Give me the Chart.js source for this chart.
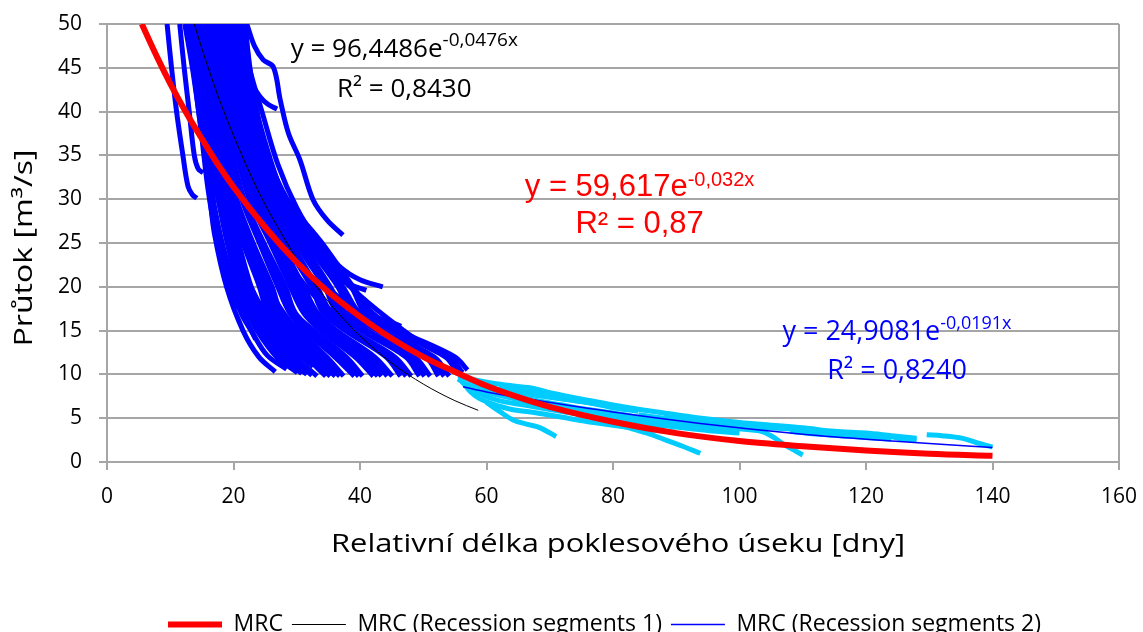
<!DOCTYPE html>
<html>
<head>
<meta charset="utf-8">
<script src="https://cdn.jsdelivr.net/npm/chart.js@4.4.1/dist/chart.umd.min.js"></script>
<style>
  html, body { margin: 0; padding: 0; background: #fff; }
</style>
</head>
<body>
<canvas id="graf" width="1143" height="632"></canvas>
<script>
// osy
const xTicks = [0, 20, 40, 60, 80, 100, 120, 140, 160];
const yTicks = [0, 5, 10, 15, 20, 25, 30, 35, 40, 45, 50];

// trendy
const mrc = [[5.5,50],[8,46.1],[10,43.2],[12.5,39.9],[15,36.9],[17.5,34.0],[20,31.4],[25,26.8],[30,22.8],[35,19.4],[40,16.6],[45,14.1],[50,12.0],[55,10.3],[60,8.7],[65,7.4],[70,6.3],[80,4.6],[90,3.3],[100,2.4],[110,1.8],[120,1.3],[130,0.93],[140,0.7]];
const mrc1 = [[13.8,50],[15,47.2],[17.5,41.9],[20,37.3],[22.5,33.1],[25,29.4],[27.5,26.2],[30,23.2],[35,18.3],[40,14.4],[45,11.3],[50,8.9],[55,7.0],[58.7,5.9]];
const mrc2 = [[56.3,8.6],[60,8.0],[67.4,7.1],[80,5.7],[93.8,4.4],[109.6,3.2],[120,2.6],[130,2.1],[140,1.65]];

// poklesove useky 1 (tmave modre)
const useky1 = [
  [[9.5,50],[10.2,45],[11,40],[12,35],[12.8,31.5],[13.5,30.5],[14.2,30.1]],
  [[11.5,50],[12.2,45],[13,40],[13.8,35],[14.4,33.5],[15.2,33]],
  [[12.3,50],[13.5,45],[14.5,40],[15.5,35],[16.3,30],[17,26],[18.9,20],[21.5,15],[24,12],[26.6,10.3]],
  [[13,50],[14,43],[15,37],[16,31],[17.2,26],[19,21],[20.5,18],[22.2,16.4]],
  [[12.5,50],[13.8,44],[15.0,38],[16.3,31],[17.8,26],[19.6,21.5],[21.8,17.6],[24.0,15.0],[26.3,13.2],[28.5,12.4]],
  [[13.0,50],[14.2,44],[15.8,38],[17.0,32],[18.6,27],[20.6,22],[22.8,18],[25.0,15.2],[27.6,13.2],[30.5,11.6]],
  [[14.0,50],[15.0,44],[16.4,38],[17.7,32],[19.5,26.5],[21.5,22],[23.8,18.5],[26.5,15.5],[29.5,12.8],[32.6,10.9]],
  [[12.8,50],[14.0,45],[15.2,40],[16.1,35],[16.8,30],[18.2,25],[19.9,20],[21.2,17],[22.8,15],[25.3,12.2],[28.4,10.6]],
  [[12.6,50],[13.9,45],[15.0,40],[15.9,35],[16.6,30],[17.6,26],[19.0,22],[20.3,19],[21.8,16.5],[23.5,14]],
  [[13.3,50],[14.5,45],[15.5,40],[16.4,35],[17.6,30],[19.0,25],[20.8,20],[22.3,17],[23.7,15],[26.8,12],[30.1,10.2]],
  [[13.5,50],[14.6,45],[15.9,40],[16.8,35],[17.8,30],[19.4,25],[21.4,20],[22.8,17],[24.3,15],[27.5,12],[30.8,10.1]],
  [[13.7,50],[14.8,45],[16.2,40],[17.1,35],[18.0,30],[19.8,25],[22.0,20],[23.2,17],[25.0,15],[28.1,12],[31.6,10]],
  [[14.0,50],[15.1,45],[16.3,40],[17.3,35],[18.4,30],[20.3,25],[22.4,20],[23.9,17],[25.7,15],[29.0,12],[32.4,9.9]],
  [[14.3,50],[15.4,45],[16.5,40],[17.4,35],[18.8,30],[20.8,25],[22.8,20],[24.6,17],[26.4,15],[29.8,12],[33.2,9.8]],
  [[14.6,50],[15.9,45],[17.1,40],[18.1,35],[19.3,30],[21.5,25],[24.1,20],[25.4,17],[27.6,15],[31.5,12],[34.6,9.8]],
  [[14.9,50],[16.0,45],[17.2,40],[18.3,35],[19.7,30],[22.0,25],[24.5,20],[26.1,17],[28.2,15],[32.1,12],[35.3,9.8]],
  [[15.2,50],[16.2,45],[17.3,40],[18.6,35],[20.1,30],[22.5,25],[24.9,20],[26.7,17],[28.8,15],[32.8,12],[36.1,9.8]],
  [[15.4,50],[16.5,45],[17.7,40],[18.8,35],[20.3,30],[22.8,25],[25.5,20],[27.2,17],[29.5,15],[33.7,12],[36.8,9.8]],
  [[15.6,50],[16.8,45],[18.0,40],[19.0,35],[20.5,30],[23.1,25],[26.1,20],[27.6,17],[30.3,15],[34.7,12],[37.4,9.8]],
  [[16.0,50],[17.1,45],[18.3,40],[19.6,35],[21.3,30],[24.1,25],[27.0,20],[28.9,17],[31.3,15],[36.0,12],[39.1,9.8]],
  [[16.3,50],[17.4,45],[18.5,40],[19.7,35],[21.5,30],[24.4,25],[27.6,20],[29.3,17],[32.0,15],[36.9,12],[39.8,9.8]],
  [[16.5,50],[17.0,45],[17.8,40],[18.9,35],[20.2,30],[21.9,26],[24.0,22],[26.6,18.5],[29.0,16],[31.5,14.2]],
  [[16.7,50],[17.6,45],[18.7,40],[19.9,35],[21.7,30],[24.8,25],[28.2,20],[29.8,17],[32.7,15],[37.8,12],[40.4,9.8]],
  [[17.0,50],[18.2,45],[19.3,40],[20.6,35],[22.5,30],[25.8,25],[29.0,20],[31.1,17],[33.8,15],[39.2,12],[42.1,9.8]],
  [[17.2,50],[18.3,45],[19.4,40],[20.8,35],[22.7,30],[26.1,25],[29.7,20],[31.6,17],[34.5,15],[40.1,12],[42.8,9.8]],
  [[17.4,50],[18.5,45],[19.6,40],[21.0,35],[22.9,30],[26.4,25],[30.3,20],[32.0,17],[35.2,15],[41.0,12],[43.4,9.8]],
  [[17.8,50],[18.8,45],[19.9,40],[21.2,35],[23.3,30],[27.0,25],[30.7,20],[32.7,17],[35.8,15],[41.7,12],[44.3,9.8]],
  [[18.0,50],[18.8,46],[19.7,42],[21.2,37],[23.0,32],[25.5,27],[28.5,23],[31.5,20],[34.5,17.8],[37.0,16.5]],
  [[18.1,50],[19.1,45],[20.2,40],[21.4,35],[23.7,30],[27.5,25],[31.1,20],[33.3,17],[36.3,15],[42.3,12],[45.1,9.8]],
  [[18.4,50],[19.6,45],[20.5,40],[22.1,35],[24.1,30],[28.1,25],[32.3,20],[34.2,17],[37.7,15],[44.1,12],[46.4,9.8]],
  [[18.7,50],[19.7,45],[20.8,40],[22.2,35],[24.5,30],[28.6,25],[32.8,20],[34.9,17],[38.2,15],[44.8,12],[47.3,9.8]],
  [[19.0,50],[19.8,45],[21.1,40],[22.4,35],[24.9,30],[29.1,25],[33.2,20],[35.5,17],[38.8,15],[45.5,12],[48.1,9.8]],
  [[19.3,50],[20.5,45],[21.4,40],[23.1,35],[25.4,30],[29.8,25],[34.4,20],[36.4,17],[40.2,15],[47.2,12],[49.4,9.8]],
  [[19.6,50],[20.6,45],[21.7,40],[23.3,35],[25.8,30],[30.3,25],[34.8,20],[37.0,17],[40.7,15],[47.9,12],[50.2,9.8]],
  [[19.9,50],[20.8,45],[22.0,40],[23.4,35],[26.2,30],[30.8,25],[35.3,20],[37.7,17],[41.2,15],[48.6,12],[51.1,9.8]],
  [[20.3,50],[21.4,45],[22.3,40],[24.1,35],[26.6,30],[31.4,25],[36.5,20],[38.6,17],[42.7,15],[50.4,12],[52.4,9.8]],
  [[20.6,50],[21.5,45],[22.6,40],[24.2,35],[27.0,30],[31.9,25],[36.9,20],[39.2,17],[43.2,15],[51.0,12],[53.3,9.8]],
  [[21.0,50],[21.7,45],[22.9,40],[24.4,35],[27.4,30],[32.4,25],[37.3,20],[39.9,17],[43.7,15],[51.7,12],[54.1,9.8]],
  [[21.2,50],[22.3,45],[23.2,40],[25.1,35],[27.8,30],[33.0,25],[38.6,20],[40.8,17],[45.2,15],[53.5,12],[55.5,10]],
  [[21.5,50],[22.4,45],[23.5,40],[25.3,35],[28.2,30],[33.5,25],[38.8,20],[41.4,17],[45.8,15],[54.2,12],[56.2,10.2]],
  [[21.8,50],[22.6,45],[23.7,40],[25.4,35],[28.5,30],[34.0,25],[38.9,20],[42.0,17],[46.3,15],[55.0,12],[57.0,10.5]],
  [[19.5,50],[21.5,44],[24,38],[27,32],[30.5,27],[35,22.5],[40,19],[46,15.5],[51,13],[55.3,11.7]],
  [[20.5,50],[22.3,44],[24.8,37],[27.8,30.5],[31.5,25.5],[35,22],[38,20.4],[41,19.6]],
  [[21,50],[22.5,45],[24.5,40],[27,34],[30,29],[33.2,25.3],[36.8,22.3],[40,20.8],[43.6,20]],
  [[20,50],[21,47],[22.6,43.6],[24.2,41.7],[25.5,40.8],[26.9,40.3]],
  [[21.8,50],[22.2,47],[22.5,44]],
  [[22.1,50],[23.3,47.5],[24.7,45.9],[26.3,45.1],[27.4,41.3],[28.7,37.5],[30.5,34.5],[32.6,29.9],[34.8,27.6],[37.3,25.9]],
  [[20.8,50],[22.0,45],[23.6,39],[25.8,33],[28.6,27.5],[32.0,23],[36.0,19.2],[41.0,16.8],[44.0,16.2],[46.5,15.5]]
];

// poklesove useky 2 (svetle modre)
const useky2 = [
  [[55.5,9.8],[58,9.4],[61,9.0],[64,8.7],[67.5,8.4],[70,7.9],[75,7.2],[80,6.5],[85,5.9],[90,5.4],[95,4.9],[100,4.5],[105,4.2],[110,3.9],[115,3.5],[120,3.3],[124,3.0],[128,2.7]],
  [[55.5,9.5],[57,8.8],[60,8.2],[64,7.6],[68,7.0],[72,6.5],[76,6.0],[80,5.6],[85,5.0],[90,4.6],[95,4.2],[100,3.8],[104,3.5]],
  [[56,9.3],[57.5,8.0],[59,7.2],[61,6.6],[64,6.0],[68,5.6],[72,5.1],[77,4.5],[82,4.0],[87,3.6],[90,3.4]],
  [[57,9.0],[59,7.8],[62,7.0],[66,6.5],[70,6.0],[75,5.4],[80,4.9],[85,4.4],[90,4.0],[95,3.6],[100,3.3]],
  [[56.5,9.6],[60,8.6],[64,8.0],[68,7.6],[72,7.2],[76,6.8],[80,6.2],[84,5.8]],
  [[58,8.4],[62,7.6],[66,7.0],[70,6.6],[74,6.1],[78,5.6],[82,5.1],[86,4.7],[90,4.3],[94,3.9],[98,3.5]],
  [[60,6.8],[62,5.8],[64.2,4.8],[66.5,4.3],[68.5,3.9],[71,2.9]],
  [[78,4.8],[82,4.0],[85.4,3.3],[88,2.6],[91,1.8],[93.8,1.0]],
  [[100,4.0],[103,3.6],[105,3.0],[107,2.0],[109,1.2],[110,0.8]],
  [[101.7,4.2],[104.8,3.9],[110,3.7],[114.8,3.4],[119,3.1],[123.8,2.9],[126,2.6],[128,2.5]],
  [[129.6,3.1],[132,3.0],[135.3,2.7],[137.5,2.2],[140,1.7]],
  [[108,3.5],[112,3.2],[116,3.0],[120,2.8],[124,2.6]],
  [[62,8.6],[66,8.2],[70,7.5],[74,7.0],[78,6.6]],
  [[84,5.4],[88,5.0],[92,4.7],[96,4.4],[100,4.1]],
  [[88,5.3],[92,5.0],[96,4.7],[100,4.4],[104,4.1],[108,3.8]]
];

const rovnice = [
  { x: 47.0, y: 46.2, text: 'y = 96,4486e', sup: '-0,0476x', color: '#000000', font: '26px "Open Sans"', supFont: '19px "Open Sans"', rise: 11 },
  { x: 47.0, y: 41.7, text: 'R² = 0,8430', color: '#000000', font: '26px "Open Sans"' },
  { x: 84.2, y: 30.4, text: 'y = 59,617e', sup: '-0,032x', color: '#ff0000', font: '31px "Liberation Sans"', supFont: '20px "Liberation Sans"', rise: 10 },
  { x: 84.2, y: 26.1, text: 'R² = 0,87', color: '#ff0000', font: '31px "Liberation Sans"' },
  { x: 124.9, y: 13.9, text: 'y = 24,9081e', sup: '-0,0191x', color: '#0000ff', font: '27px "Open Sans"', supFont: '18px "Open Sans"', rise: 11 },
  { x: 124.9, y: 9.5, text: 'R² = 0,8240', color: '#0000ff', font: '27px "Open Sans"' }
];

const datasets = [
  { label: 'MRC', data: mrc, borderColor: '#ff0000', borderWidth: 6, cubicInterpolationMode: 'monotone' },
  { label: 'MRC (Recession segments 1)', data: mrc1, borderColor: '#000000', borderWidth: 1, cubicInterpolationMode: 'monotone' },
  { label: 'MRC (Recession segments 2)', data: mrc2, borderColor: '#0000ff', borderWidth: 1.5, cubicInterpolationMode: 'monotone' }
];
useky1.forEach(u => datasets.push({ label: '', data: u, borderColor: '#0000ff', borderWidth: 5, tension: 0.35 }));
useky2.forEach(u => datasets.push({ label: '', data: u, borderColor: '#00ccff', borderWidth: 5, tension: 0.35 }));
datasets.forEach(d => { d.showLine = true; d.pointRadius = 0; d.backgroundColor = d.borderColor; });

function roztazenyText(ctx, text, x, y, sirka, rot) {
  ctx.save();
  ctx.translate(x, y);
  if (rot) ctx.rotate(rot);
  const w = ctx.measureText(text).width;
  ctx.scale(sirka / w, 1);
  ctx.textAlign = 'center';
  ctx.textBaseline = 'alphabetic';
  ctx.fillText(text, 0, 0);
  ctx.restore();
}

const popisky = {
  id: 'popisky',
  afterLayout(chart) {
    // legenda je v originale posunuta doprava
    chart.legend.left += 45;
    chart.legend.right += 45;
  },
  afterDatasetsDraw(chart) {
    const { ctx, chartArea: a, scales: { x, y } } = chart;
    ctx.save();
    ctx.strokeStyle = '#a6a6a6';
    ctx.lineWidth = 2;
    ctx.beginPath();
    ctx.moveTo(a.right, a.top);
    ctx.lineTo(a.right, a.bottom);
    ctx.stroke();

    rovnice.forEach(r => {
      const px = x.getPixelForValue(r.x), py = y.getPixelForValue(r.y);
      ctx.fillStyle = r.color;
      ctx.textAlign = 'left';
      ctx.textBaseline = 'alphabetic';
      ctx.font = r.font;
      const w1 = ctx.measureText(r.text).width;
      let w2 = 0;
      if (r.sup) { ctx.font = r.supFont; w2 = ctx.measureText(r.sup).width; }
      const left = px - (w1 + w2) / 2;
      ctx.font = r.font;
      ctx.fillText(r.text, left, py);
      if (r.sup) { ctx.font = r.supFont; ctx.fillText(r.sup, left + w1, py - r.rise); }
    });

    // nazvy os
    ctx.fillStyle = '#000000';
    ctx.font = '25px "Open Sans"';
    roztazenyText(ctx, 'Relativní délka poklesového úseku [dny]', (a.left + a.right) / 2 + 5, 552, 574);
    roztazenyText(ctx, 'Průtok [m³/s]', 32, (a.top + a.bottom) / 2 + 5, 197, -Math.PI / 2);
    ctx.restore();
  }
};

new Chart(document.getElementById('graf'), {
  type: 'scatter',
  data: { datasets: datasets },
  plugins: [popisky],
  options: {
    responsive: false,
    animation: false,
    devicePixelRatio: 1,
    layout: { padding: { left: 0, right: 24, top: 24, bottom: -14 } },
    plugins: {
      tooltip: { enabled: false },
      legend: {
        position: 'bottom',
        labels: {
          filter: item => item.text !== '',
          usePointStyle: true,
          pointStyle: 'line',
          pointStyleWidth: 54,
          color: '#000000',
          font: { family: 'Open Sans', size: 23 },
          padding: 9
        }
      }
    },
    scales: {
      x: {
        type: 'linear',
        min: 0, max: 160,
        afterBuildTicks: s => { s.ticks = xTicks.map(v => ({ value: v })); },
        afterFit: s => { s.height = 142; s.paddingLeft = 0; s.paddingRight = 0; },
        ticks: { color: '#000000', font: { family: 'Open Sans', size: 21 }, padding: 14 },
        grid: { drawOnChartArea: false, drawTicks: true, tickLength: 8, color: '#a6a6a6', lineWidth: 2 },
        border: { color: '#a6a6a6', width: 2 }
      },
      y: {
        type: 'linear',
        min: 0, max: 50,
        afterBuildTicks: s => { s.ticks = yTicks.map(v => ({ value: v })); },
        afterFit: s => { s.width = 107; s.paddingTop = 0; s.paddingBottom = 0; },
        ticks: { color: '#000000', font: { family: 'Open Sans', size: 21 }, padding: 17 },
        grid: { color: '#a6a6a6', lineWidth: 2, tickLength: 8 },
        border: { color: '#a6a6a6', width: 2 }
      }
    }
  }
});
</script>
</body>
</html>
